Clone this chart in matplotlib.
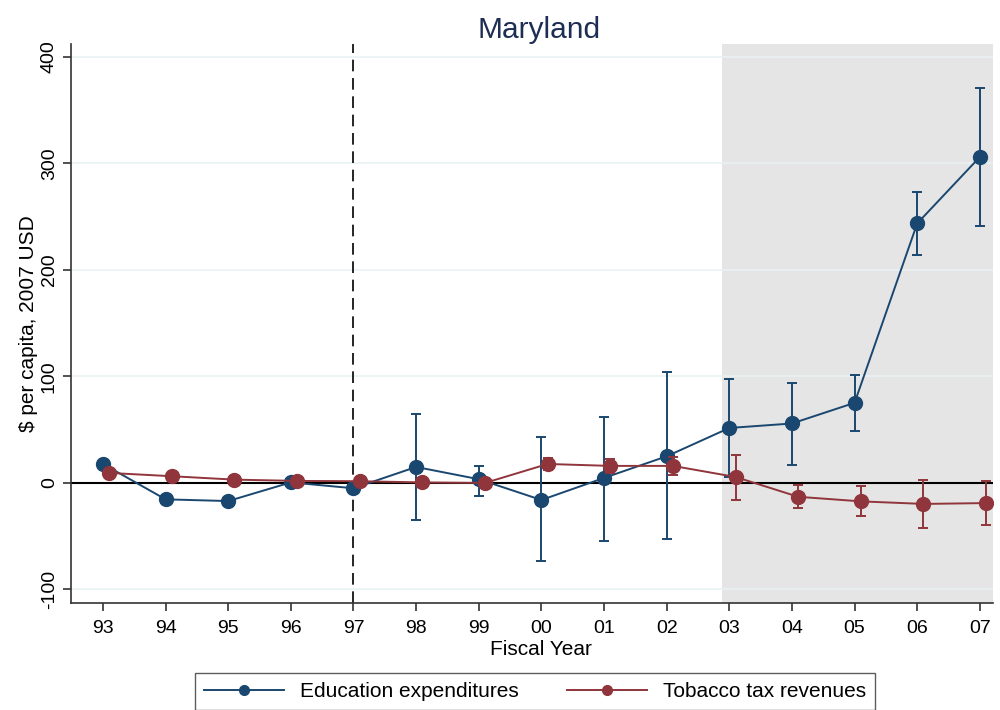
import numpy as np
import matplotlib
matplotlib.use("Agg")
import matplotlib.pyplot as plt
from matplotlib.lines import Line2D

plt.rcParams["font.family"] = ["Liberation Sans", "DejaVu Sans"]

years = ["93", "94", "95", "96", "97", "98", "99", "00", "01", "02", "03", "04", "05", "06", "07"]

# Education expenditures (point estimate, upper and lower bounds)
edu = [17.8, -15.4, -17.0, 0.5, -5.0, 15.0, 3.5, -16.0, 4.7, 25.0, 51.6, 55.8, 75.2, 243.6, 306.0]
edu_hi = [np.nan, np.nan, np.nan, np.nan, np.nan, 65.0, 16.0, 43.0, 62.0, 104.0, 97.7, 94.0, 101.4, 273.0, 371.0]
edu_lo = [np.nan, np.nan, np.nan, np.nan, np.nan, -35.0, -12.0, -73.0, -54.5, -53.0, 5.6, 17.3, 49.1, 214.0, 241.0]

# Tobacco tax revenues
tob = [9.4, 6.3, 3.1, 1.9, 1.6, 0.5, 0.0, 17.8, 16.0, 16.0, 5.6, -13.0, -17.3, -19.7, -18.9]
tob_hi = [np.nan, np.nan, np.nan, np.nan, np.nan, np.nan, np.nan, 23.8, 22.5, 24.7, 26.0, -2.2, -3.2, 2.8, 1.9]
tob_lo = [np.nan, np.nan, np.nan, np.nan, np.nan, np.nan, np.nan, 12.2, 9.7, 7.5, -15.6, -23.7, -30.7, -42.0, -39.6]

BLUE = "#1a476f"
RED = "#90353b"

x = np.arange(len(years))
edu = np.array(edu)
tob = np.array(tob)
edu_err = [edu - np.array(edu_lo), np.array(edu_hi) - edu]
tob_err = [tob - np.array(tob_lo), np.array(tob_hi) - tob]

fig = plt.figure(figsize=(10, 7.1), dpi=100)
ax = fig.add_axes([0.071, 0.1507, 0.922, 0.7873])

ax.set_xlim(-0.51, 14.21)
ax.set_ylim(-112.7, 412)

# treatment-period shading and reference lines
ax.axvspan(9.88, 14.21, color="#e5e5e5", lw=0, zorder=0)
ax.axhline(0, color="black", lw=1.5, zorder=1)
ax.axvline(4, color="black", lw=1.2, ls=(0, (7, 4)), zorder=1)

ax.errorbar(x, edu, yerr=edu_err, color=BLUE, marker="o", ms=10, lw=1.4,
            elinewidth=1.4, capsize=3.8, capthick=1.4, zorder=3)
ax.errorbar(x + 0.1, tob, yerr=tob_err, color=RED, marker="o", ms=10, lw=1.4,
            elinewidth=1.4, capsize=3.8, capthick=1.4, zorder=4)

ax.set_xticks(x)
ax.set_xticklabels(years)
ax.set_yticks([-100, 0, 100, 200, 300, 400])
ax.set_yticklabels(["-100", "0", "100", "200", "300", "400"], rotation=90, va="center")
ax.tick_params(axis="both", labelsize=14, length=6, width=1.2, color="#333333")
ax.tick_params(axis="x", pad=6)
ax.grid(axis="y", color="#eaf2f3", lw=1.2, zorder=0)
ax.set_axisbelow(True)

for s in ("top", "right"):
    ax.spines[s].set_visible(False)
for s in ("left", "bottom"):
    ax.spines[s].set_color("#333333")
    ax.spines[s].set_linewidth(1.2)

ax.set_title("Maryland", fontsize=21.5, color="#1e2d53", pad=4, x=0.508)
ax.set_xlabel("Fiscal Year", fontsize=15)
ax.xaxis.set_label_coords(0.51, -0.067)
ax.xaxis.label.set_va("top")
ax.set_ylabel("\\$ per capita, 2007 USD", fontsize=15)
ax.yaxis.set_label_coords(-0.036, 0.5)

handles = [
    Line2D([0], [0], color=BLUE, marker="o", ms=7, lw=1.4, label="Education expenditures"),
    Line2D([0], [0], color=RED, marker="o", ms=7, lw=1.4, label="Tobacco tax revenues"),
]
leg = fig.legend(handles=handles, loc="upper left", bbox_to_anchor=(0.195, 1 - 673 / 710),
                 ncol=2, fontsize=15, frameon=True, fancybox=False, handlelength=3.84,
                 handletextpad=0.77, columnspacing=2.3, borderpad=0.43, borderaxespad=0,
                 edgecolor="#333333")
leg.get_frame().set_linewidth(1.0)

fig.savefig("out.png", dpi=100, facecolor="white")
